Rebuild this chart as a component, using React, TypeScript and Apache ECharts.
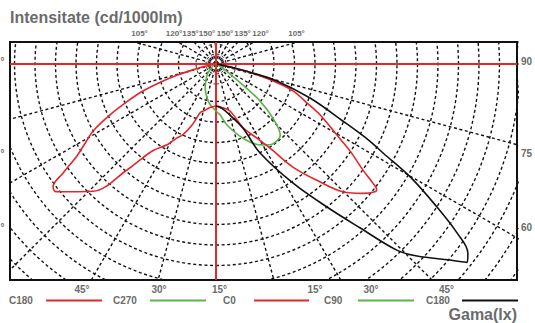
import React, { useEffect, useRef } from 'react';
import * as echarts from 'echarts';

// Luminous intensity per C-plane: [gamma (deg from nadir), intensity (chart units)]
const C180_RED: number[][] = [
  [0, 42], [8, 44], [14, 48], [18, 51], [21, 64], [25, 78], [28, 84], [31, 94], [36, 107], [38, 119],
  [40, 138], [44, 177], [48.8, 194], [51.5, 205], [53, 204], [54.5, 188], [56.5, 167], [59, 152],
  [61.4, 140], [64.3, 118], [67, 97], [69.7, 78], [72, 58], [74.2, 40], [76, 22], [78, 10], [80, 4], [90, 1],
];
const C0_RED: number[][] = [
  [0, 42], [8, 44], [16.6, 49], [23, 69], [29, 85], [32.7, 100], [36.8, 129], [41.4, 157], [44.8, 180],
  [48.7, 196], [51.2, 204], [52, 204], [52.8, 197], [54.2, 181], [57, 160], [59.6, 140], [63.9, 116],
  [67, 98], [70.7, 82], [73, 64], [75, 46], [77, 25], [79, 10], [81, 4], [90, 1],
];
const C270_GREEN: number[][] = [
  [0, 47], [8.3, 41], [14.8, 35], [24.6, 26], [39.3, 14], [50, 7], [60, 3], [90, 1],
];
const C90_GREEN: number[][] = [
  [0, 47], [4.5, 51], [10.2, 62], [20, 79], [28.5, 92], [33.7, 97], [38.4, 98], [42, 96], [46.5, 78],
  [50, 57], [52, 34], [55, 15], [60, 5], [90, 1],
];
const C180_BLACK: number[][] = [
  [0, 42], [8, 45], [15.3, 53], [22.9, 70], [26.3, 99], [32.9, 142], [37.8, 181], [41.3, 218],
  [44.2, 260], [46.3, 278], [50, 305], [51.7, 320], [53.1, 315], [55, 294], [57.1, 263], [59.8, 225],
  [61.9, 190], [63.4, 172], [65.8, 139], [70.1, 100], [74.4, 63], [76.5, 35], [78, 15], [80, 5], [90, 1],
];

// Polar grid: ring intensities and radial directions (deg)
const RINGS: number[] = [10, 20, 37.5, 58, 78.5, 99, 119.5, 140, 160.5, 181, 201.5, 222, 242.5, 263, 283.5, 304, 324.5, 345, 365.5, 386];
const SPOKES: number[] = Array.from({ length: 24 }, (_, i) => i * 15);

// Tick labels
const TOP_LABELS: string[] = ['105°', '120°', '135°', '150°', '150°', '135°', '120°', '105°'];
const BOTTOM_LABELS: string[] = ['45°', '30°', '15°', '15°', '30°', '45°'];
const RIGHT_LABELS: string[] = ['90', '75', '60'];
const LEFT_LABELS: string[] = ['°', '°', '°']; // only the degree signs are inside the picture
const LEGEND_NAMES: string[] = ['C180', 'C270', 'C0', 'C90', 'C180'];

// Layout (pixels)
const TOP_X = [139.5, 174, 190.5, 207, 225, 242.5, 260.5, 296.5];
const BOTTOM_X = [82, 159, 219.5, 315, 371, 446.5];
const SIDE_Y = [61, 153, 227];
const LEGEND_TEXT_X = [9, 113, 223, 324, 426];
const LEGEND_LINE_X = [[46, 102], [150, 206], [254, 309], [358, 414], [462, 518]];

const RED = '#e4262b';
const GREEN = '#5db34b';
const BLACK = '#111111';
const GRAY = '#6b6b6b';
const FONT = '"Liberation Sans", Arial, sans-serif';

const rad = (d: number) => (d * Math.PI) / 180;
const toXY = (g: number, r: number, side: number) => [side * r * Math.sin(rad(g)), -r * Math.cos(rad(g))];

export default function App() {
  const ref = useRef<HTMLDivElement>(null);
  useEffect(() => {
    if (!ref.current) return;
    const chart = echarts.init(ref.current, undefined, { renderer: 'svg' });

    const xMin = -206, xMax = 301, yMin = -216, yMax = 22;

    const dashed = { color: BLACK, width: 1.4, type: [3, 2.6] as any };
    const gridSeries: any[] = [];
    RINGS.forEach((r) => {
      const pts: number[][] = [];
      for (let a = 0; a <= 360; a += 2) pts.push(toXY(a, r, 1));
      gridSeries.push({ type: 'line', data: pts, symbol: 'none', silent: true, lineStyle: r < 30 ? { ...dashed, width: 1 } : dashed, z: 1 });
    });
    SPOKES.forEach((a) => {
      gridSeries.push({ type: 'line', data: [[0, 0], toXY(a, 420, 1)], symbol: 'none', silent: true, lineStyle: dashed, z: 1 });
    });

    const red = [
      ...C180_RED.slice().reverse().map(([g, r]) => toXY(g, r, -1)),
      ...C0_RED.slice(1).map(([g, r]) => toXY(g, r, 1)),
    ];
    const green = [
      ...C270_GREEN.slice().reverse().map(([g, r]) => toXY(g, r, -1)),
      ...C90_GREEN.slice(1).map(([g, r]) => toXY(g, r, 1)),
    ];
    const black = C180_BLACK.map(([g, r]) => toXY(g, r, 1));

    const curve = (name: string, data: number[][], color: string) => ({
      name, type: 'line', data, symbol: 'none', smooth: 0.35, silent: true,
      lineStyle: { color, width: 1.6 }, z: 4,
    });

    const graphic: any[] = [];
    graphic.push({ type: 'text', x: 10, y: 17, style: { text: 'Intensitate (cd/1000lm)', font: `bold 16px ${FONT}`, fill: GRAY, align: 'left', verticalAlign: 'middle' } });
    graphic.push({ type: 'text', x: 517, y: 314, style: { text: 'Gama(lx)', font: `bold 16px ${FONT}`, fill: GRAY, align: 'right', verticalAlign: 'middle' } });
    TOP_LABELS.forEach((t, i) => graphic.push({ type: 'text', x: TOP_X[i], y: 33, style: { text: t, font: `bold 8px ${FONT}`, fill: GRAY, align: 'center', verticalAlign: 'middle' } }));
    BOTTOM_LABELS.forEach((t, i) => graphic.push({ type: 'text', x: BOTTOM_X[i], y: 289, style: { text: t, font: `bold 10px ${FONT}`, fill: GRAY, align: 'center', verticalAlign: 'middle' } }));
    RIGHT_LABELS.forEach((t, i) => graphic.push({ type: 'text', x: 521, y: SIDE_Y[i], style: { text: t, font: `bold 10px ${FONT}`, fill: GRAY, align: 'left', verticalAlign: 'middle' } }));
    LEFT_LABELS.forEach((t, i) => graphic.push({ type: 'text', x: 0.5, y: SIDE_Y[i], style: { text: t, font: `bold 10px ${FONT}`, fill: GRAY, align: 'left', verticalAlign: 'middle' } }));
    const legendColors = [RED, GREEN, RED, GREEN, BLACK];
    LEGEND_NAMES.forEach((t, i) => {
      graphic.push({ type: 'text', x: LEGEND_TEXT_X[i], y: 300, style: { text: t, font: `bold 10px ${FONT}`, fill: GRAY, align: 'left', verticalAlign: 'middle' } });
      graphic.push({ type: 'line', shape: { x1: LEGEND_LINE_X[i][0], y1: 300.5, x2: LEGEND_LINE_X[i][1], y2: 300.5 }, style: { stroke: legendColors[i], lineWidth: 2 } });
    });

    chart.setOption({
      animation: false,
      grid: { left: 10, top: 42, width: 507, height: 238, show: true, borderColor: '#111', borderWidth: 2, backgroundColor: '#fff', z: 0 },
      xAxis: { type: 'value', min: xMin, max: xMax, show: false },
      yAxis: { type: 'value', min: yMin, max: yMax, show: false },
      graphic,
      series: [
        ...gridSeries,
        { type: 'line', data: [[xMin, 0], [xMax, 0]], symbol: 'none', silent: true, lineStyle: { color: RED, width: 2 }, z: 3 },
        { type: 'line', data: [[0, yMin], [0, yMax]], symbol: 'none', silent: true, lineStyle: { color: RED, width: 2 }, z: 3 },
        curve('C270-C90', green, GREEN),
        curve('C180-C0', red, RED),
        curve('C180', black, BLACK),
      ],
    });
    return () => chart.dispose();
  }, []);
  return <div ref={ref} style={{ position: 'absolute', left: 0, top: 0, width: 535, height: 323 }} />;
}
